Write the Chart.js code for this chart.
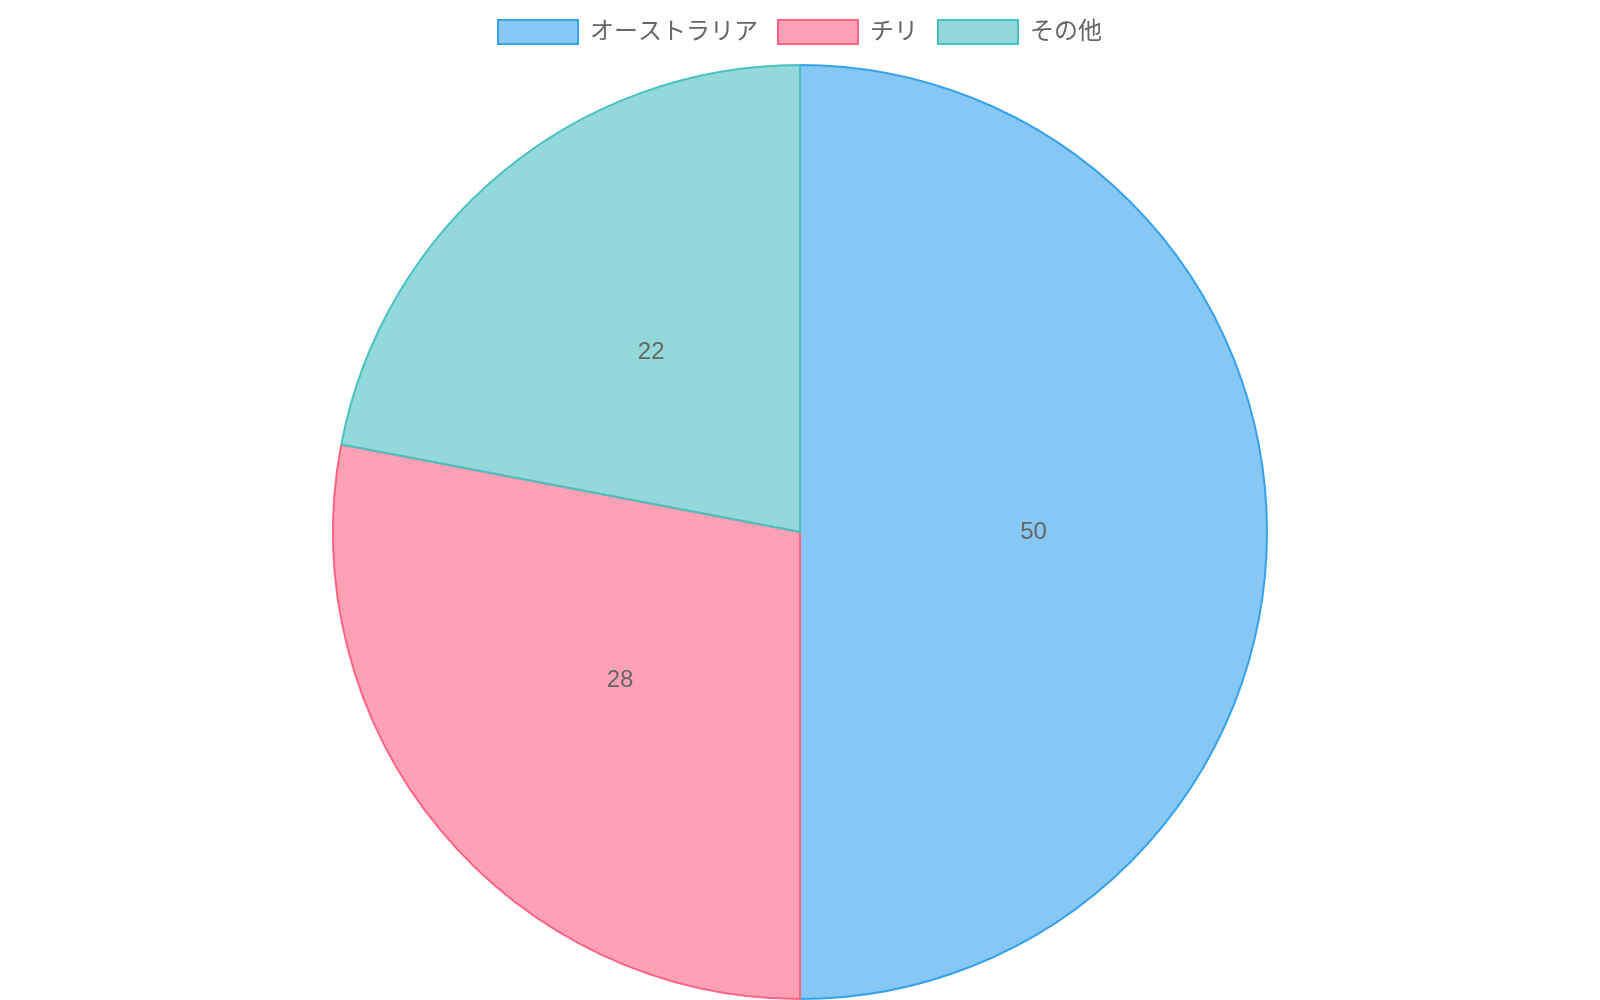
<!DOCTYPE html>
<html lang="ja">
<head>
<meta charset="utf-8">
<title>Pie</title>
<script src="https://cdn.jsdelivr.net/npm/chart.js@4.4.1/dist/chart.umd.min.js"></script>
<style>
    html, body { margin: 0; padding: 0; background: #fff; }
    canvas { display: block; }
</style>
</head>
<body>
<canvas id="pie" width="1600" height="1000"></canvas>
<script>
// Data
const labels = ['オーストラリア', 'チリ', 'その他'];
const values = [50, 28, 22];
const fillColors = ['rgba(54, 162, 235, 0.6)', 'rgba(255, 99, 132, 0.6)', 'rgba(75, 192, 192, 0.6)'];
const borderColors = ['rgb(54, 162, 235)', 'rgb(255, 99, 132)', 'rgb(75, 192, 192)'];

const FONT = "'Helvetica Neue', Helvetica, Arial, 'Noto Sans CJK JP', sans-serif";

// A bit more room between the legend and the pie
const legendGap = {
    id: 'legendGap',
    beforeInit(chart) {
        const fit = chart.legend.fit;
        chart.legend.fit = function () {
            fit.call(this);
            this.height += 10;
        };
    }
};

// Draw the value in the middle of each slice
const sliceLabels = {
    id: 'sliceLabels',
    afterDatasetsDraw(chart) {
        const ctx = chart.ctx;
        const meta = chart.getDatasetMeta(0);
        ctx.save();
        ctx.font = '24px ' + FONT;
        ctx.fillStyle = '#666';
        ctx.textAlign = 'center';
        ctx.textBaseline = 'middle';
        meta.data.forEach((arc, i) => {
            const pos = arc.tooltipPosition();
            ctx.fillText(String(chart.data.datasets[0].data[i]), pos.x, pos.y);
        });
        ctx.restore();
    }
};

new Chart(document.getElementById('pie'), {
    type: 'pie',
    data: {
        labels,
        datasets: [{
            data: values,
            backgroundColor: fillColors,
            borderColor: borderColors,
            borderWidth: 2
        }]
    },
    options: {
        responsive: false,
        animation: false,
        devicePixelRatio: 1,
        plugins: {
            legend: {
                position: 'top',
                labels: {
                    boxWidth: 80,
                    padding: 20,
                    color: '#666',
                    font: { size: 24, family: FONT }
                }
            },
            tooltip: { enabled: false }
        }
    },
    plugins: [legendGap, sliceLabels]
});
</script>
</body>
</html>
